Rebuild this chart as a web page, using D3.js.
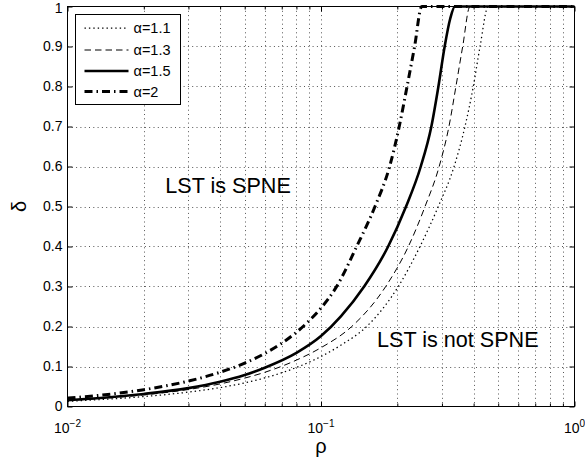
<!DOCTYPE html>
<html>
<head>
<meta charset="utf-8">
<script src="https://cdn.jsdelivr.net/npm/d3@7"></script>
<style>
  body { margin: 0; background: #fff; }
  svg { display: block; }
  text { font-family: "Liberation Sans", Arial, Helvetica, sans-serif; fill: #000; }
</style>
</head>
<body>
<svg id="chart" width="585" height="461"></svg>
<script>
// Threshold curves delta(rho) for several alpha values
const seriesLabels = ["α=1.1", "α=1.3", "α=1.5", "α=2"];

const rhoA11   = [0.01, 0.02, 0.03, 0.04, 0.05, 0.06, 0.08, 0.1, 0.12, 0.1514, 0.2018, 0.2458, 0.2902, 0.335, 0.3698, 0.3988, 0.424, 0.4571, 1];
const deltaA11 = [0.0128, 0.0248, 0.036, 0.0472, 0.059, 0.0714, 0.0976, 0.125, 0.1536, 0.2, 0.3, 0.4, 0.5, 0.6, 0.7, 0.8, 0.9, 1, 1];

const rhoA13   = [0.01, 0.02, 0.03, 0.04, 0.05, 0.06, 0.08, 0.1, 0.1322, 0.18, 0.2211, 0.2573, 0.2925, 0.3197, 0.3406, 0.3622, 0.387, 1];
const deltaA13 = [0.0148, 0.029, 0.0425, 0.0565, 0.071, 0.0855, 0.116, 0.147, 0.2, 0.3, 0.4, 0.5, 0.6, 0.7, 0.8, 0.9, 1, 1];

const rhoA15   = [0.01, 0.015, 0.02, 0.03, 0.04, 0.05, 0.06, 0.08, 0.1, 0.12, 0.148, 0.184, 0.2165, 0.2475, 0.2725, 0.2905, 0.3075, 0.3235, 0.3375, 1];
const deltaA15 = [0.0158, 0.0236, 0.0314, 0.046, 0.062, 0.079, 0.097, 0.134, 0.176, 0.226, 0.3, 0.4, 0.5, 0.6, 0.7, 0.8, 0.9, 0.97, 1, 1];

const rhoA2    = [0.01, 0.015, 0.02, 0.03, 0.04, 0.05, 0.06, 0.07, 0.08, 0.09, 0.1, 0.115, 0.1383, 0.1633, 0.1865, 0.2035, 0.2185, 0.234, 0.2497, 1];
const deltaA2  = [0.0208, 0.0314, 0.042, 0.0636, 0.0856, 0.1085, 0.1326, 0.158, 0.1856, 0.215, 0.246, 0.299, 0.4, 0.5, 0.6, 0.7, 0.8, 0.9, 1, 1];

const yTicks = [0, 0.1, 0.2, 0.3, 0.4, 0.5, 0.6, 0.7, 0.8, 0.9, 1];
const xMajorTicks = [0.01, 0.1, 1];
const xMajorExponents = ["−2", "−1", "0"];

const annotations = [
  { text: "LST is SPNE", rho: 0.0243, delta: 0.5345 },
  { text: "LST is not SPNE", rho: 0.1663, delta: 0.149 }
];

const series = [
  { label: seriesLabels[0], rho: rhoA11, delta: deltaA11, width: 1.25, dash: "1.4,3" },
  { label: seriesLabels[1], rho: rhoA13, delta: deltaA13, width: 1,    dash: "6.5,4" },
  { label: seriesLabels[2], rho: rhoA15, delta: deltaA15, width: 2.6,  dash: null },
  { label: seriesLabels[3], rho: rhoA2,  delta: deltaA2,  width: 3,    dash: "8,4,1.5,4" }
];

const svg = d3.select("#chart");
const plotLeft = 67.5, plotRight = 574.5, plotTop = 6.5, plotBottom = 406.5;

const x = d3.scaleLog().domain([0.01, 1]).range([plotLeft, plotRight]);
const y = d3.scaleLinear().domain([0, 1]).range([plotBottom, plotTop]);

// minor log positions inside each decade
const xMinor = [];
[0.01, 0.1].forEach(d => { for (let k = 2; k <= 9; k++) xMinor.push(+(d * k).toPrecision(3)); });
const xGrid = xMinor.concat([0.1]);

// dotted grid
const grid = svg.append("g").attr("stroke", "#555").attr("stroke-width", 1).attr("stroke-dasharray", "1,3.3");
grid.selectAll("line.gy").data(yTicks.filter(v => v > 0 && v < 1)).join("line")
  .attr("x1", plotLeft).attr("x2", plotRight)
  .attr("y1", d => Math.round(y(d)) + 0.5).attr("y2", d => Math.round(y(d)) + 0.5);
grid.selectAll("line.gx").data(xGrid).join("line")
  .attr("y1", plotTop).attr("y2", plotBottom)
  .attr("x1", d => Math.round(x(d)) + 0.5).attr("x2", d => Math.round(x(d)) + 0.5);

// axes with inward ticks
const yAxisL = d3.axisLeft(y).tickValues(yTicks).tickSize(-5).tickPadding(5).tickFormat(d3.format("~g"));
const yAxisR = d3.axisRight(y).tickValues(yTicks).tickSize(-5).tickFormat("");
const xAxisB = d3.axisBottom(x).tickValues(xMajorTicks).tickSize(-5).tickFormat("");
const xAxisT = d3.axisTop(x).tickValues(xMajorTicks).tickSize(-5).tickFormat("");
const xMinB = d3.axisBottom(x).tickValues(xMinor).tickSize(-3).tickFormat("");
const xMinT = d3.axisTop(x).tickValues(xMinor).tickSize(-3).tickFormat("");

function styleAxis(g) {
  g.select(".domain").remove();
  g.selectAll(".tick line").attr("stroke", "#000");
  g.selectAll(".tick text").attr("font-size", 14).attr("font-family", "Liberation Sans, Arial, sans-serif").attr("fill", "#000");
}
svg.append("g").attr("transform", `translate(${plotLeft},0)`).call(yAxisL).call(styleAxis)
  .selectAll(".tick text").filter(d => d === 1).attr("dy", "0.42em");
svg.append("g").attr("transform", `translate(${plotRight},0)`).call(yAxisR).call(styleAxis);
svg.append("g").attr("transform", `translate(0,${plotBottom})`).call(xAxisB).call(styleAxis);
svg.append("g").attr("transform", `translate(0,${plotTop})`).call(xAxisT).call(styleAxis);
svg.append("g").attr("transform", `translate(0,${plotBottom})`).call(xMinB).call(styleAxis);
svg.append("g").attr("transform", `translate(0,${plotTop})`).call(xMinT).call(styleAxis);

// x tick labels: powers of ten with superscript exponents
const xl = svg.append("g").selectAll("text").data(xMajorTicks).join("text")
  .attr("x", d => x(d)).attr("y", plotBottom + 26)
  .attr("text-anchor", "middle").attr("font-size", 14);
xl.append("tspan").text("10");
xl.append("tspan").attr("dy", -6).attr("font-size", 10).text((d, i) => xMajorExponents[i]);

// curves
const line = d3.line().x(d => x(d[0])).y(d => y(d[1])).curve(d3.curveMonotoneX);
svg.append("g").selectAll("path").data(series).join("path")
  .attr("d", s => line(s.rho.map((r, i) => [r, s.delta[i]])))
  .attr("fill", "none").attr("stroke", "#000")
  .attr("stroke-width", s => s.width)
  .attr("stroke-dasharray", s => s.dash);

// plot frame
svg.append("rect").attr("x", plotLeft).attr("y", plotTop).attr("width", plotRight - plotLeft).attr("height", plotBottom - plotTop)
  .attr("fill", "none").attr("stroke", "#000").attr("stroke-width", 1);

// axis titles
svg.append("text").attr("x", (plotLeft + plotRight) / 2).attr("y", 453).attr("text-anchor", "middle")
  .attr("font-size", 20).text("ρ");
svg.append("text").attr("transform", `translate(26,${(plotTop + plotBottom) / 2}) rotate(-90)`)
  .attr("text-anchor", "middle").attr("font-size", 20).text("δ");

// region annotations
svg.append("g").selectAll("text").data(annotations).join("text")
  .attr("x", d => x(d.rho)).attr("y", d => y(d.delta))
  .attr("font-size", 21.6).text(d => d.text);

// legend
const lg = svg.append("g").attr("transform", "translate(75.5,14.5)");
lg.append("rect").attr("width", 105).attr("height", 90).attr("fill", "#fff").attr("stroke", "#000");
const rowY = [13.5, 35.5, 56.5, 77];
const item = lg.selectAll("g.item").data(series).join("g").attr("transform", (d, i) => `translate(0,${rowY[i]})`);
item.append("line").attr("x1", 9).attr("x2", 53).attr("stroke", "#000")
  .attr("stroke-width", d => d.width).attr("stroke-dasharray", d => d.dash);
item.append("text").attr("x", 58).attr("dy", "0.36em").attr("font-size", 14.5).text(d => d.label);
</script>
</body>
</html>
